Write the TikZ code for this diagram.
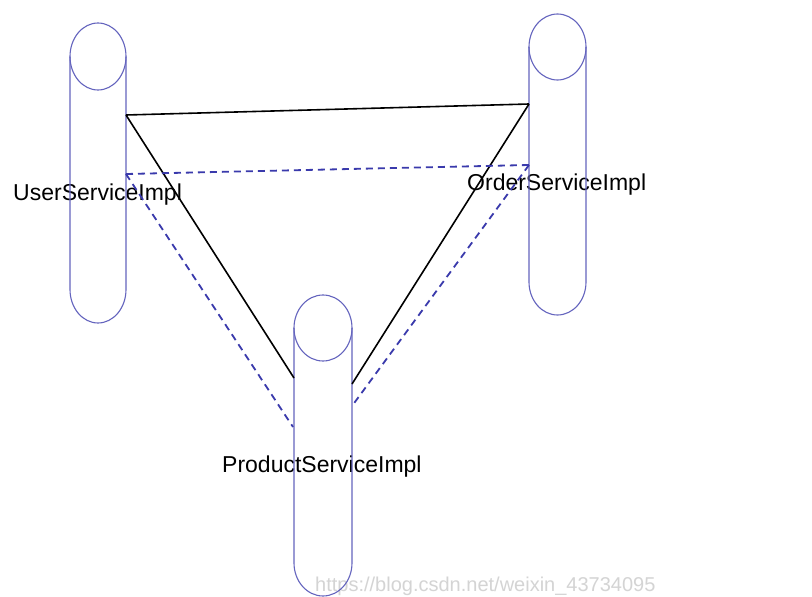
\documentclass[tikz,border=0pt]{standalone}
\usepackage{fontspec}
\setmainfont{Liberation Sans}
\definecolor{cylblue}{RGB}{100,100,190}
\definecolor{dashblue}{RGB}{58,58,172}
\definecolor{wmgray}{RGB}{212,212,212}
\newcommand\mycylinder[5]{% cx, rx, ctop, ry, cbot
  \draw[cyl] (#1,#3) ellipse [x radius=#2pt, y radius=#4pt];
  \draw[cyl] ({#1-#2},#3) -- ({#1-#2},#5)
     arc[start angle=180, end angle=360, x radius=#2pt, y radius=#4pt]
     -- ({#1+#2},#3);
}
\begin{document}
\begin{tikzpicture}[x=1pt,y=-1pt,
  cyl/.style={draw=cylblue, line width=1.1pt},
  solidc/.style={draw=black, line width=1.6pt},
  dashc/.style={draw=dashblue, line width=1.8pt, dash pattern=on 7pt off 5pt},
  lbl/.style={font=\fontsize{23}{26}\selectfont, anchor=base west, inner sep=0pt, text=black},
  wm/.style={font=\fontsize{20}{24}\selectfont, anchor=base west, inner sep=0pt, text=wmgray}]
\useasboundingbox (0,0) rectangle (812,597);
\fill[white] (0,0) rectangle (812,597);
% labels
\node[lbl] (userlbl) at (13,200) {UserServiceImpl};
\node[lbl] (orderlbl) at (467,190) {OrderServiceImpl};
\node[lbl] (prodlbl) at (222,472) {ProductServiceImpl};
\node[wm] (wmark) at (315,591) {https://blog.csdn.net/weixin\_43734095};
% cylinders
\mycylinder{98}{28}{56.5}{33.5}{289.5}
\mycylinder{557.5}{28.5}{47}{33}{282}
\mycylinder{323}{29}{328}{33}{563}
% connector end points
\coordinate (u1) at (126,115);
\coordinate (o1) at (529,104);
\coordinate (p1) at (294,378);
\coordinate (p2) at (352,384);
\coordinate (ud) at (126,174);
\coordinate (od) at (529,165);
\coordinate (pd1) at (293,427);
\coordinate (pd2) at (352,406);
% solid connectors
\draw[solidc] (u1) -- (o1);
\draw[solidc] (u1) -- (p1);
\draw[solidc] (o1) -- (p2);
% dashed connectors
\draw[dashc] (ud) -- (od);
\draw[dashc] (ud) -- (pd1);
\draw[dashc] (od) -- (pd2);
\end{tikzpicture}
\end{document}
